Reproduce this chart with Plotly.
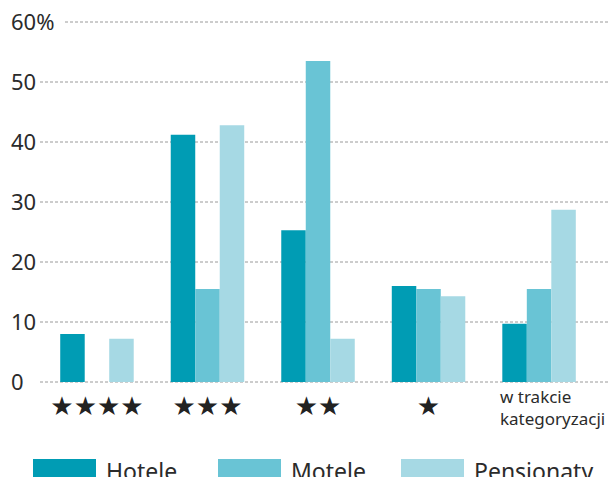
import plotly.graph_objects as go

categories = ["★★★★", "★★★", "★★", "★", "w trakcie<br>kategoryzacji"]
series_names = ["Hotele", "Motele", "Pensjonaty"]
hotele = [8.0, 41.2, 25.3, 16.0, 9.7]
motele = [0.0, 15.5, 53.5, 15.5, 15.5]
pensjonaty = [7.2, 42.8, 7.2, 14.3, 28.7]
colors = ["#009cb4", "#69c4d5", "#a6d9e4"]
y_ticks = [0, 10, 20, 30, 40, 50, 60]
y_ticktext = ["0", "10", "20", "30", "40", "50", "60%"]

W, H = 612, 477
L, R, T, B = 8, 0, 10, 89
pw, ph = W - L - R, H - T - B

def px(x):
    return (x - L) / pw

def py(y):
    return (H - B - y) / ph

FONT = "Noto Sans, DejaVu Sans, sans-serif"
TXT = "#2b2b2b"

fig = go.Figure()
xs = list(range(len(categories)))
for name, vals, col in zip(series_names, [hotele, motele, pensjonaty], colors):
    fig.add_trace(go.Bar(x=xs, y=vals, name=name, marker=dict(color=col, line=dict(width=0)),
                         showlegend=False))

star_text = [c if i < 4 else "" for i, c in enumerate(categories)]

fig.update_layout(
    width=W, height=H,
    margin=dict(l=L, r=R, t=T, b=B),
    plot_bgcolor="white", paper_bgcolor="white",
    barmode="group", bargap=0.335, bargroupgap=0,
    font=dict(family=FONT, color=TXT),
    xaxis=dict(range=[-0.805, 4.66], tickmode="array", tickvals=xs, ticktext=star_text,
               tickfont=dict(size=26, color="#222", family="DejaVu Sans"),
               showgrid=False, zeroline=False, showline=False, ticks="",
               ticklabelstandoff=0),
    yaxis=dict(range=[-1, 62], tickmode="array", tickvals=y_ticks, ticktext=y_ticktext,
               ticklabelposition="inside", ticklabeloverflow="allow",
               tickfont=dict(size=22, color=TXT),
               showgrid=False, zeroline=False, showline=False, ticks=""),
)

# dotted gridlines starting after the labels
for v in y_ticks:
    x0 = px(65) if v == y_ticks[-1] else px(40)
    fig.add_shape(type="line", xref="paper", yref="y", x0=x0, x1=px(608), y0=v, y1=v,
                  line=dict(color="#9a9a9a", width=1, dash="3px,2px"), layer="below")

# multi-line category label, left aligned
fig.add_annotation(x=4, xref="x", xshift=-41, y=py(383), yref="paper", yanchor="top",
                   xanchor="left", align="left", text=categories[4], showarrow=False,
                   font=dict(size=17, color=TXT, family=FONT))

# custom legend with wide swatches
leg_rect_x = [33, 218, 401]
for name, col, x0 in zip(series_names, colors, leg_rect_x):
    fig.add_shape(type="rect", xref="paper", yref="paper", x0=px(x0), x1=px(x0 + 63),
                  y0=py(485), y1=py(459), fillcolor=col, line=dict(width=0))
    fig.add_annotation(x=px(x0 + 71), y=py(453), xref="paper", yref="paper",
                       xanchor="left", yanchor="top", text=name, showarrow=False,
                       font=dict(size=23, color=TXT, family=FONT))

fig.write_html("out.html")
